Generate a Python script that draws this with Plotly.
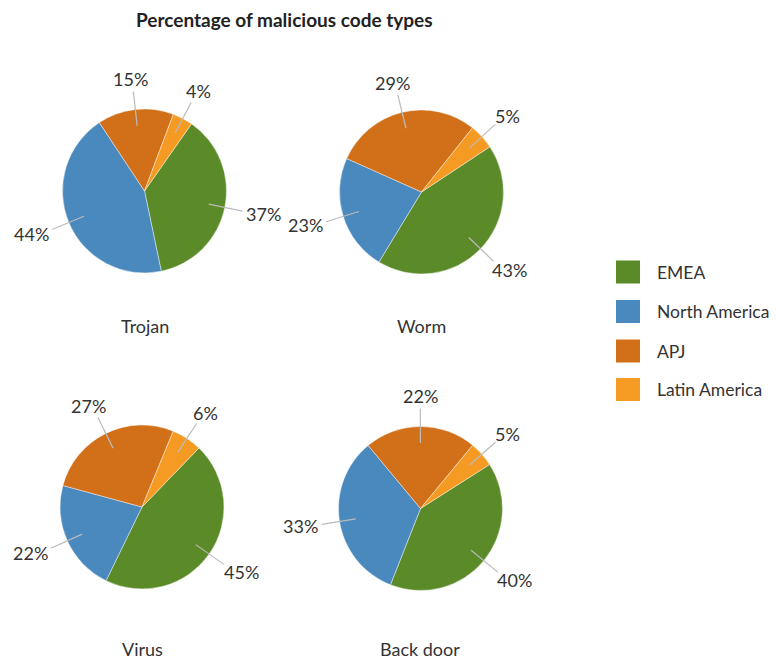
import math
import plotly.graph_objects as go

# ---------------- data ----------------
regions = ["EMEA", "North America", "APJ", "Latin America"]
colors = ["#5b8a29", "#4a89be", "#d2701a", "#f59b23"]
code_types = ["Trojan", "Worm", "Virus", "Back door"]
trojan = [37, 44, 15, 4]
worm = [43, 23, 29, 5]
virus = [45, 22, 27, 6]
back_door = [40, 33, 22, 5]
series = [trojan, worm, virus, back_door]
title = "Percentage of malicious code types"

# ---------------- layout parameters ----------------
W, H = 776, 661
R = 82
centers = [(144.5, 191), (421.5, 192), (142, 507), (420.5, 508.5)]
rotations = [35, 56.5, 44, 57.5]   # start of first slice, clockwise from 12 o'clock
name_y = [326, 326, 649, 649]
FONT = "Lato, 'Open Sans', sans-serif"
TXT = "#333333"


def px(x):
    return x / W


def py(y):
    return 1 - y / H


fig = go.Figure()
shapes = []
annotations = []

for k, (vals, name) in enumerate(zip(series, code_types)):
    cx, cy = centers[k]
    fig.add_trace(go.Pie(
        labels=regions, values=vals, sort=False, direction="clockwise",
        rotation=rotations[k], textinfo="none", showlegend=False,
        marker=dict(colors=colors, line=dict(color="rgba(255,255,255,0.7)", width=0.6)),
        domain=dict(x=[px(cx - R), px(cx + R)], y=[py(cy + R), py(cy - R)]),
        hoverinfo="label+percent", name=name,
    ))
    # leader lines + labels
    total = sum(vals)
    acc = 0
    for v in vals:
        mid = math.radians(rotations[k] + 360 * (acc + v / 2) / total)
        acc += v
        s, c = math.sin(mid), -math.cos(mid)
        x0, y0 = cx + 0.8 * R * s, cy + 0.8 * R * c
        x1, y1 = cx + 1.22 * R * s, cy + 1.22 * R * c
        shapes.append(dict(type="line", xref="paper", yref="paper",
                           x0=px(x0), y0=py(y0), x1=px(x1), y1=py(y1),
                           line=dict(color="#bbbbbb", width=1.2)))
        label = f"{v}%"
        w = 10.4 * (len(label) - 1) + 15
        h = 19
        lx = x1 + s * (w / 2 + 4)
        ly = y1 + c * (h / 2 + 3)
        annotations.append(dict(x=px(lx), y=py(ly), xref="paper", yref="paper",
                                text=label, showarrow=False, xanchor="center", yanchor="middle",
                                font=dict(family=FONT, size=18, color=TXT)))
    annotations.append(dict(x=px(cx), y=py(name_y[k]), xref="paper", yref="paper",
                            text=name, showarrow=False, xanchor="center", yanchor="middle",
                            borderpad=0,
                            font=dict(family=FONT, size=18, color=TXT)))

# legend (manual, large squares)
leg_y = [272, 311.5, 351, 389.5]
for reg, col, ly in zip(regions, colors, leg_y):
    shapes.append(dict(type="rect", xref="paper", yref="paper",
                       x0=px(616), x1=px(640), y0=py(ly + 11.5), y1=py(ly - 11.5),
                       fillcolor=col, line=dict(width=0)))
    annotations.append(dict(x=px(655), y=py(ly), xref="paper", yref="paper",
                            text=reg, showarrow=False, xanchor="left", yanchor="middle",
                            font=dict(family=FONT, size=17.5, color=TXT)))

annotations.append(dict(x=px(284), y=py(20), xref="paper", yref="paper",
                        text=f"<b>{title}</b>", showarrow=False, xanchor="center", yanchor="middle",
                        font=dict(family=FONT, size=19, color="#222222")))

fig.update_layout(width=W, height=H, margin=dict(l=0, r=0, t=0, b=0),
                  paper_bgcolor="white", plot_bgcolor="white",
                  shapes=shapes, annotations=annotations, showlegend=False)

fig.write_html("out.html")
